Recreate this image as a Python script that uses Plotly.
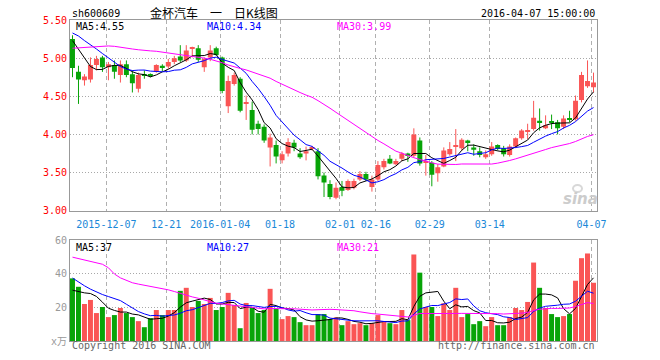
import pandas as pd
import plotly.graph_objects as go

# ---------------- data ----------------
holidays = ["2016-01-01", "2016-02-08", "2016-02-09", "2016-02-10",
            "2016-02-11", "2016-02-12", "2016-04-04"]
dates = [d.strftime("%Y-%m-%d") for d in pd.bdate_range("2015-11-27", "2016-04-07")
         if d.strftime("%Y-%m-%d") not in holidays]

tick_dates = ["2015-12-07", "2015-12-21", "2016-01-04", "2016-01-18", "2016-02-01",
              "2016-02-16", "2016-02-29", "2016-03-14", "2016-04-07"]
tick_text = ["2015-12-07", "12-21", "2016-01-04", "01-18", "02-01",
             "02-16", "02-29", "03-14", "04-07"]

opens = [5.25, 4.82, 4.71, 4.72, 4.91, 5.01, 4.88, 4.91, 4.78, 4.92,
         4.79, 4.60, 4.79, 4.78, 4.82, 4.90, 4.89, 4.95, 5.02, 4.97,
         5.12, 5.13, 4.88, 5.01, 5.13, 5.01, 4.37, 4.66, 4.73, 4.40,
         4.32, 4.14, 4.10, 3.83, 3.86, 3.66, 3.75, 3.89, 3.75, 3.75,
         3.81, 3.78, 3.46, 3.35, 3.17, 3.31, 3.27, 3.30, 3.41, 3.48,
         3.31, 3.41, 3.57, 3.68, 3.61, 3.68, 3.75, 3.72, 3.92, 3.63,
         3.63, 3.49, 3.58, 3.74, 3.84, 3.82, 3.92, 3.83, 3.78, 3.70,
         3.74, 3.86, 3.82, 3.73, 3.84, 3.95, 4.04, 4.07, 4.18, 4.08,
         4.17, 4.16, 4.10, 4.21, 4.20, 4.45, 4.63, 4.62]
highs = [5.30, 4.90, 4.79, 5.01, 5.03, 5.03, 4.95, 4.97, 4.97, 4.97,
         4.84, 4.81, 4.84, 4.80, 4.92, 4.92, 4.99, 5.03, 5.17, 5.17,
         5.15, 5.17, 5.01, 5.17, 5.15, 5.02, 4.77, 4.81, 4.75, 4.51,
         4.43, 4.18, 4.13, 4.01, 3.92, 3.78, 3.95, 3.93, 3.82, 3.84,
         3.85, 3.82, 3.50, 3.40, 3.37, 3.39, 3.41, 3.42, 3.52, 3.51,
         3.46, 3.65, 3.68, 3.73, 3.68, 3.77, 3.76, 4.08, 3.96, 3.73,
         3.65, 3.61, 3.83, 3.90, 4.07, 3.95, 3.93, 3.87, 3.83, 3.79,
         3.90, 3.87, 3.85, 3.87, 3.96, 4.07, 4.14, 4.44, 4.34, 4.25,
         4.26, 4.19, 4.25, 4.31, 4.51, 4.82, 4.97, 4.81]
lows = [4.75, 4.40, 4.64, 4.68, 4.84, 4.82, 4.71, 4.73, 4.68, 4.75,
        4.55, 4.55, 4.73, 4.75, 4.81, 4.83, 4.86, 4.92, 4.95, 4.95,
        5.01, 4.95, 4.82, 4.96, 5.03, 4.54, 4.28, 4.64, 4.29, 4.19,
        4.00, 4.00, 3.89, 3.58, 3.62, 3.62, 3.71, 3.78, 3.68, 3.66,
        3.79, 3.41, 3.18, 3.15, 3.15, 3.19, 3.26, 3.28, 3.39, 3.39,
        3.25, 3.39, 3.54, 3.61, 3.60, 3.65, 3.64, 3.70, 3.59, 3.46,
        3.32, 3.38, 3.57, 3.72, 3.65, 3.79, 3.78, 3.72, 3.70, 3.68,
        3.72, 3.79, 3.71, 3.71, 3.82, 3.93, 3.94, 4.05, 4.05, 4.07,
        4.07, 4.00, 4.07, 4.16, 4.18, 4.42, 4.61, 4.55]
closes = [4.87, 4.72, 4.76, 4.91, 4.99, 4.88, 4.92, 4.82, 4.92, 4.78,
          4.67, 4.78, 4.77, 4.77, 4.91, 4.87, 4.95, 5.00, 4.97, 5.10,
          5.13, 4.98, 4.99, 5.10, 5.04, 4.57, 4.70, 4.78, 4.31, 4.41,
          4.06, 4.07, 3.92, 3.96, 3.71, 3.74, 3.90, 3.83, 3.70, 3.78,
          3.82, 3.45, 3.37, 3.18, 3.30, 3.26, 3.39, 3.39, 3.48, 3.41,
          3.41, 3.60, 3.65, 3.62, 3.65, 3.75, 3.73, 4.00, 3.62, 3.65,
          3.47, 3.57, 3.79, 3.81, 3.86, 3.93, 3.90, 3.80, 3.73, 3.74,
          3.84, 3.81, 3.74, 3.84, 3.95, 4.05, 4.05, 4.22, 4.16, 4.12,
          4.16, 4.08, 4.21, 4.19, 4.44, 4.78, 4.70, 4.68]
volumes = [37.2, 32.2, 22.0, 24.4, 16.6, 20.2, 14.2, 15.4, 19.6, 16.6,
           14.2, 11.8, 8.2, 13.6, 18.4, 15.4, 18.4, 18.4, 29.8, 31.6,
           20.2, 23.8, 22.0, 25.6, 18.4, 20.2, 28.6, 21.4, 7.6, 22.6,
           20.2, 16.6, 18.4, 31.0, 19.0, 13.0, 14.8, 14.2, 11.2, 9.4,
           9.4, 16.0, 16.0, 13.0, 14.0, 9.4, 11.8, 10.0, 10.6, 9.4,
           10.6, 15.4, 11.8, 10.6, 10.0, 18.4, 12.4, 51.4, 40.6, 20.2,
           20.2, 14.8, 22.4, 18.4, 31.6, 14.2, 16.0, 10.0, 11.8, 8.8,
           14.2, 9.4, 9.4, 14.2, 19.6, 18.4, 23.2, 46.6, 31.6, 19.6,
           16.0, 14.2, 14.8, 16.0, 35.8, 49.2, 52.0, 34.6]

# moving-average values at the start of the window (read from the chart,
# they depend on trading days before the visible range)
ma5_head = [5.23, 5.12, 5.00, 4.89]
ma10_head = [5.33, 5.29, 5.23, 5.18, 5.12, 5.06, 5.00, 4.94, 4.89]
ma30_head = [5.13, 5.135, 5.14, 5.145, 5.155, 5.16, 5.16, 5.155, 5.14, 5.13,
             5.12, 5.11, 5.10, 5.095, 5.09, 5.08, 5.07, 5.06, 5.05, 5.04,
             5.025, 5.01, 5.00, 4.985, 4.965, 4.94, 4.91, 4.885, 4.865]
vma5_head = [30.2, 29.2, 28.6, 28.2]
vma10_head = [37.4, 35.0, 32.8, 30.8, 29.0, 27.6, 26.4, 25.2, 24.0]
vma30_head = [49.8, 48.9, 48.0, 47.2, 46.4, 45.6, 43.5, 39.8, 37.5, 36.0,
              34.6, 33.8, 33.2, 32.6, 32.0, 31.2, 30.4, 29.4, 28.2, 27.2,
              26.2, 25.4, 24.4, 23.2, 22.4, 22.0, 21.6, 21.2, 20.8]

price_labels = ["MA5:4.55", "MA10:4.34", "MA30:3.99"]
volume_labels = ["MA5:37", "MA10:27", "MA30:21"]
price_ticks = [3.0, 3.5, 4.0, 4.5, 5.0, 5.5]
volume_ticks = [0, 20, 40, 60]
volume_tick_text = ["x万", "20", "40", "60"]

# ---------------- helpers ----------------
def moving_avg(values, n, head):
    out = list(head)
    for i in range(len(head), len(values)):
        out.append(sum(values[i - n + 1:i + 1]) / n)
    return out

RED = "#fa5555"
GREEN = "#08a408"
MONO = "DejaVu Sans Mono, Liberation Mono, monospace"

idx = list(range(len(dates)))
cx = [i - 0.083 for i in idx]          # candle centre (body is left-aligned in the slot)
up = [c >= o for o, c in zip(opens, closes)]
colors = [RED if u else GREEN for u in up]
body_base = [min(o, c) for o, c in zip(opens, closes)]
body_h = [max(abs(c - o), 0.014) for o, c in zip(opens, closes)]

fig = go.Figure()

# candle bodies
fig.add_trace(go.Bar(x=idx, y=body_h, base=body_base, width=0.83, offset=-0.5,
                     marker=dict(color=colors, line=dict(width=0)),
                     xaxis="x", yaxis="y", hoverinfo="skip"))
# volume bars
fig.add_trace(go.Bar(x=idx, y=volumes, width=0.83, offset=-0.5,
                     marker=dict(color=colors, line=dict(width=0)),
                     xaxis="x2", yaxis="y2", hoverinfo="skip"))

# wicks
for col, flag in ((RED, True), (GREEN, False)):
    wx, wy = [], []
    for i in idx:
        if up[i] == flag:
            wx += [cx[i], cx[i], None]
            wy += [lows[i], highs[i], None]
    fig.add_trace(go.Scatter(x=wx, y=wy, mode="lines", line=dict(color=col, width=1),
                             xaxis="x", yaxis="y", hoverinfo="skip"))

ma_colors = ["#000000", "#0000ff", "#ff00ff"]
for n, head, col in zip((5, 10, 30), (ma5_head, ma10_head, ma30_head), ma_colors):
    fig.add_trace(go.Scatter(x=cx, y=moving_avg(closes, n, head), mode="lines",
                             line=dict(color=col, width=1), xaxis="x", yaxis="y",
                             hoverinfo="skip"))
for n, head, col in zip((5, 10, 30), (vma5_head, vma10_head, vma30_head), ma_colors):
    fig.add_trace(go.Scatter(x=cx, y=moving_avg(volumes, n, head), mode="lines",
                             line=dict(color=col, width=1), xaxis="x2", yaxis="y2",
                             hoverinfo="skip"))

tickpos = [dates.index(d) - 0.42 for d in tick_dates]

# ---------------- layout ----------------
L, R, T, B = 70, 63, 20, 19
W, H = 660, 360
PW, PH = W - L - R, H - T - B

def px(x):
    return (x - L) / PW

def py(y):
    return (H - B - y) / PH

xcommon = dict(range=[-0.5, len(dates) - 0.5], tickvals=tickpos, showgrid=True,
               gridcolor="#b0b0b0", griddash="4px,3px", gridwidth=1, zeroline=False,
               showline=True, linecolor="#999999", linewidth=1, mirror=True, ticks="",
               fixedrange=True)
ycommon = dict(showgrid=True, gridcolor="#a8a8a8", griddash="1px,2px", gridwidth=1,
               zeroline=False, showline=True, linecolor="#999999", linewidth=1,
               mirror=True, ticks="", fixedrange=True)

fig.update_layout(
    width=W, height=H, margin=dict(l=L, r=R, t=T, b=B, pad=0),
    paper_bgcolor="white", plot_bgcolor="white", showlegend=False,
    xaxis=dict(**xcommon, domain=[0, 1], anchor="y", ticktext=tick_text,
               ticklabelstandoff=4,
               tickfont=dict(family=MONO, size=10, color="#1a88d8")),
    xaxis2=dict(**xcommon, domain=[0, 1], anchor="y2", matches="x", showticklabels=False),
    yaxis=dict(**ycommon, domain=[py(210.7), 1], range=[3.0, 5.5], tickvals=price_ticks,
               ticktext=["%.2f" % v for v in price_ticks],
               tickfont=dict(family=MONO, size=10, color="#ff0000")),
    yaxis2=dict(**ycommon, domain=[0, py(240)], range=[0, 60], tickvals=volume_ticks,
                ticktext=volume_tick_text,
                tickfont=dict(family=MONO + ", Noto Sans CJK SC", size=10, color="#999999")),
)

def note(text, x, y, anchor="left", color="#000000", size=10, family=MONO, **kw):
    fig.add_annotation(text=text, x=px(x), y=py(y), xref="paper", yref="paper",
                       xanchor=anchor, yanchor="middle", showarrow=False,
                       font=dict(family=family, size=size, color=color, **kw))

note("sh600609", 70, 13)
note("金杯汽车\u3000一\u3000日K线图", 214, 12, anchor="center", size=12,
     family="Noto Sans CJK SC")
note("2016-04-07 15:00:00", 597, 13, anchor="right")
for txt, x, col in zip(price_labels, (74, 205, 335), ma_colors):
    note(txt, x, 26, color=col)
for txt, x, col in zip(volume_labels, (74, 205, 335), ma_colors):
    note(txt, x, 247, color=col)
note("Copyright 2016 SINA.COM", 70, 346, color="#666666")
note("http://finance.sina.com.cn", 597, 346, anchor="right", color="#666666")
note("sina", 580, 199, anchor="center", color="#cccccc", size=15,
     family="DejaVu Sans", weight="bold", style="italic")
fig.add_shape(type="circle", xref="paper", yref="paper",
              x0=px(573), x1=px(582), y0=py(192), y1=py(185),
              line=dict(color="#d8d8d8", width=2))

fig.write_html("out.html")
